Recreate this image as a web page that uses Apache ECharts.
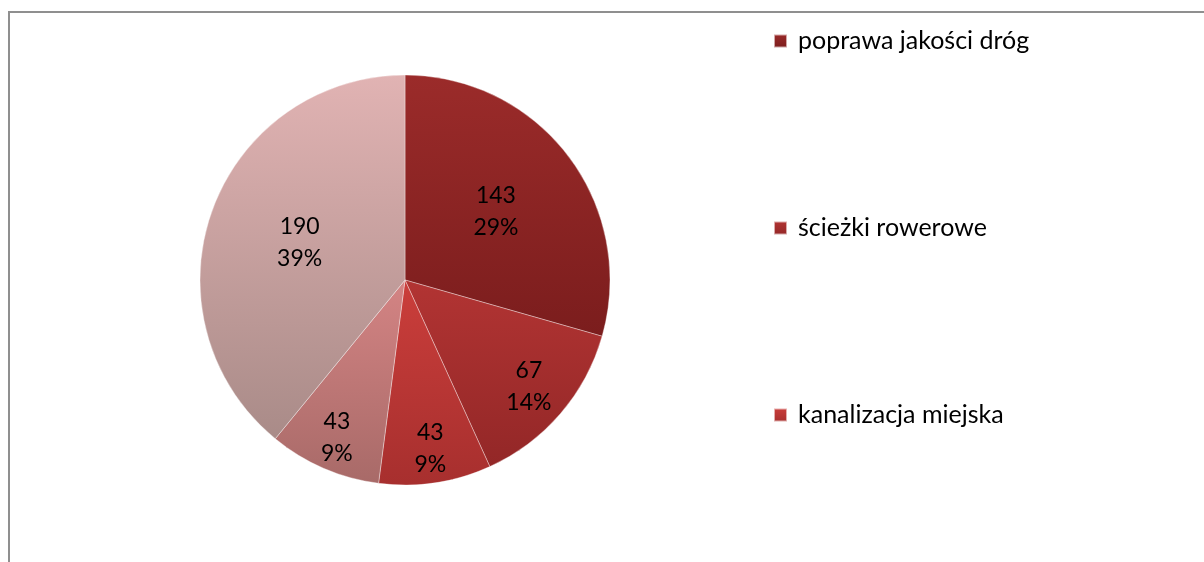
<!DOCTYPE html>
<html><head><meta charset="utf-8">
<script src="https://cdn.jsdelivr.net/npm/echarts@6/dist/echarts.min.js"></script>
<style>html,body{margin:0;padding:0;background:#fff}#c{width:1204px;height:562px}</style>
</head><body><div id="c"></div>
<script>
const categories = ["poprawa jakości dróg", "ścieżki rowerowe", "kanalizacja miejska", "kategoria 4", "kategoria 5"];
const legendNames = ["poprawa jakości dróg", "ścieżki rowerowe", "kanalizacja miejska"];
const values = [143, 67, 43, 43, 190];
const percentLabels = ["29%", "14%", "9%", "9%", "39%"];
const topColors = ["#9b2b2a", "#b23433", "#cb3e3b", "#d48484", "#e1b3b3"];
const bottomColors = ["#7b1d1d", "#932727", "#a72f2e", "#a86a68", "#a98b88"];
const labelRadialScale = [1.08, 1.55, 1.62, 1.63, 1.06];

const W = 1204, H = 562;
const CX = 405, CY = 280, R = 205;
const FONT = "Lato, 'Open Sans', sans-serif";

const chart = echarts.init(document.getElementById('c'), null, {renderer: 'canvas'});
const data = categories.map((n, i) => ({
  name: n,
  value: values[i],
  itemStyle: {
    color: new echarts.graphic.LinearGradient(0, 0, 0, 1, [
      {offset: 0, color: topColors[i]},
      {offset: 1, color: bottomColors[i]}
    ])
  }
}));

chart.setOption({
  animation: false,
  backgroundColor: '#fff',
  graphic: [{
    type: 'polyline',
    shape: {points: [[9, H], [9, 12], [W, 12]]},
    style: {stroke: '#8f8f8f', lineWidth: 2, fill: null},
    silent: true
  }],
  legend: {
    data: legendNames,
    orient: 'vertical',
    left: 768,
    top: 23,
    icon: 'rect',
    itemWidth: 13,
    itemHeight: 13,
    itemGap: 161,
    textStyle: {fontFamily: FONT, fontSize: 25, color: '#000', lineHeight: 26, padding: [0, 0, 0, 6]}
  },
  series: [{
    type: 'pie',
    center: [CX, CY],
    radius: R,
    startAngle: 90,
    clockwise: true,
    data: data,
    itemStyle: {borderColor: 'rgba(255,255,255,0.6)', borderWidth: 0.6},
    label: {
      show: true,
      position: 'inside',
      formatter: p => p.value + '\n' + percentLabels[p.dataIndex],
      fontFamily: FONT,
      fontSize: 23,
      lineHeight: 32,
      color: '#000'
    },
    labelLayout: function (p) {
      const k = labelRadialScale[p.dataIndex];
      const lx = p.labelRect.x + p.labelRect.width / 2;
      const ly = p.labelRect.y + p.labelRect.height / 2;
      return {x: CX + (lx - CX) * k, y: CY + (ly - CY) * k, align: 'center', verticalAlign: 'middle'};
    },
    emphasis: {disabled: true}
  }]
});
</script>
</body></html>
